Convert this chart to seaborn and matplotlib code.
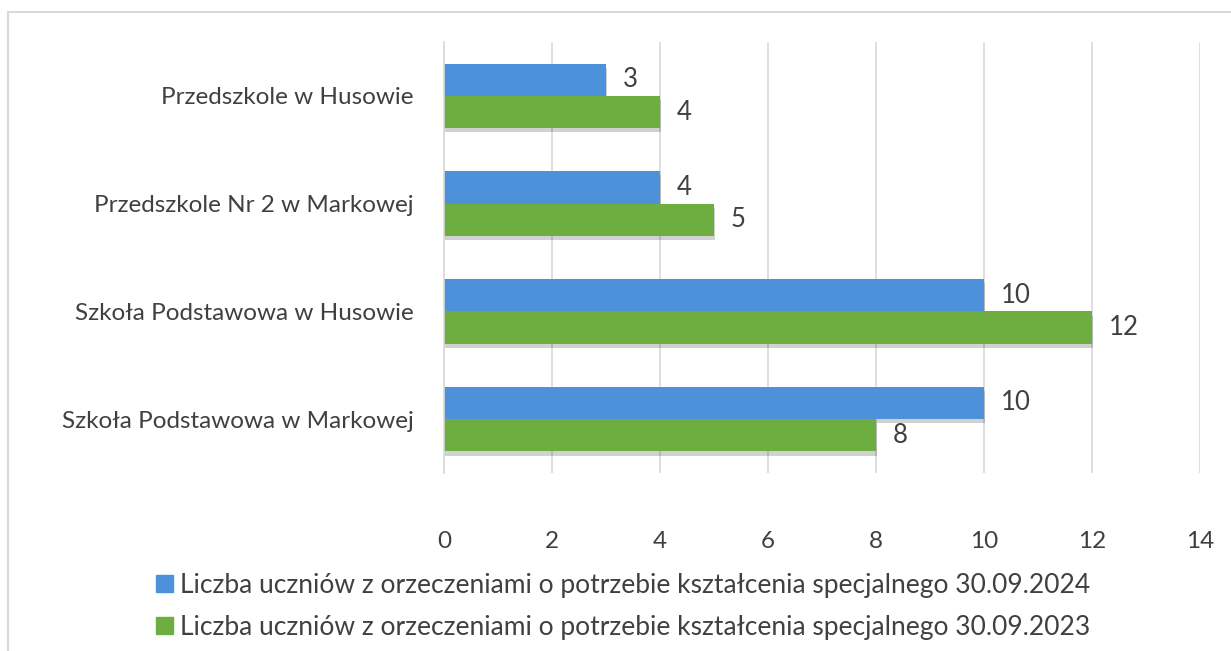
import numpy as np
import pandas as pd
import seaborn as sns
import matplotlib.pyplot as plt
import matplotlib.patheffects as pe
from matplotlib.patches import Rectangle

# data
schools = ['Przedszkole w Husowie', 'Przedszkole Nr 2 w Markowej',
           'Szkoła Podstawowa w Husowie', 'Szkoła Podstawowa w Markowej']
series = ['Liczba uczniów z orzeczeniami o potrzebie kształcenia specjalnego 30.09.2024',
          'Liczba uczniów z orzeczeniami o potrzebie kształcenia specjalnego 30.09.2023']
values_2024 = [3, 4, 10, 10]
values_2023 = [4, 5, 12, 8]
xticks = [0, 2, 4, 6, 8, 10, 12, 14]

colors = ['#4d91da', '#6eae41']
text_color = '#404040'

df = pd.DataFrame({
    'school': schools * 2,
    'series': [series[0]] * 4 + [series[1]] * 4,
    'value': values_2024 + values_2023,
})

sns.set_style('white')
plt.rcParams['font.family'] = ['Lato', 'DejaVu Sans']

fig = plt.figure(figsize=(12.31, 6.51), dpi=100)
ax = fig.add_axes([444 / 1231, 1 - 473 / 651, 756 / 1231, 431 / 651])

sns.barplot(ax=ax, data=df, y='school', x='value', hue='series', order=schools,
            hue_order=series, palette=colors, saturation=1, width=0.6, orient='h',
            legend=False)

# soft shadow under the bars
for bar in ax.patches:
    bar.set_path_effects([pe.SimplePatchShadow(offset=(1, -3), shadow_rgbFace='#000000',
                                               alpha=0.18), pe.Normal()])
    bar.set_linewidth(0)

# value labels
for cont in ax.containers:
    ax.bar_label(cont, padding=12, fontsize=18.5, color=text_color)

ax.set_xlim(0, 14)
ax.set_xticks(xticks)
ax.xaxis.grid(True, color='#d9d9d9', linewidth=1.2)
ax.set_axisbelow(True)
for s in ['top', 'right', 'bottom']:
    ax.spines[s].set_visible(False)
ax.spines['left'].set_color('#d9d9d9')
ax.spines['left'].set_linewidth(1.2)
ax.tick_params(axis='x', length=0, pad=42, labelsize=17.5, labelcolor=text_color)
ax.tick_params(axis='y', length=0, pad=22, labelsize=17.5, labelcolor=text_color)
ax.set_xlabel('')
ax.set_ylabel('')

# legend below the chart
handles = [Rectangle((0, 0), 1, 1, color=c) for c in colors]
fig.legend(handles, series, loc='upper left', bbox_to_anchor=(132 / 1231, 1 - 549 / 651),
           frameon=False, fontsize=19, labelcolor=text_color, handlelength=0.65,
           handleheight=0.65, handletextpad=0.25, labelspacing=0.65)

# outer chart border
fig.patches.append(Rectangle((8 / 1231, -0.1), 1.2, 1 - 12 / 651 + 0.1,
                             transform=fig.transFigure, fill=False,
                             edgecolor='#d9d9d9', linewidth=1.5))

fig.savefig('out.png', dpi=100)
